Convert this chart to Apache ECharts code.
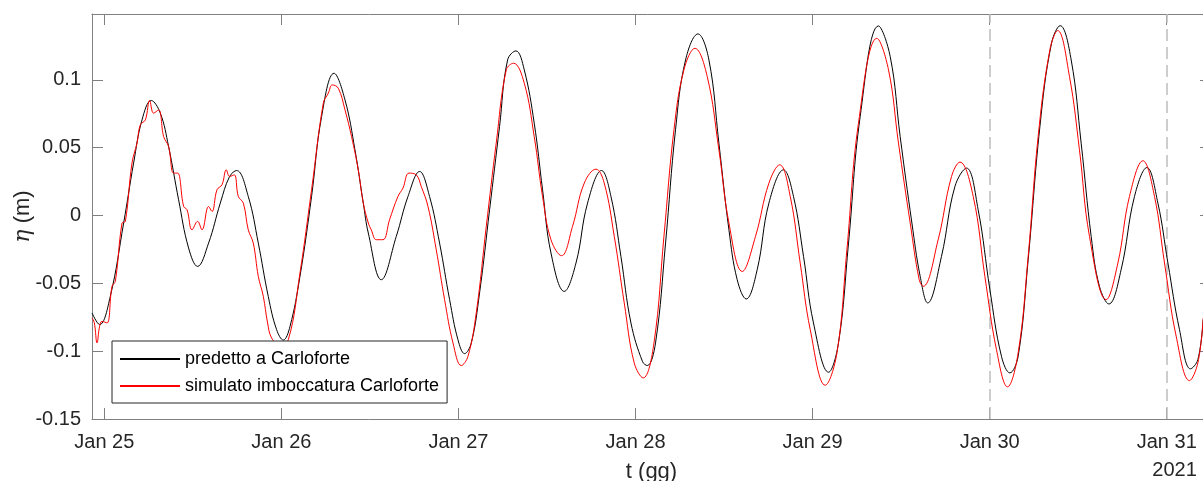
<!DOCTYPE html>
<html>
<head>
<meta charset="utf-8">
<script src="https://cdn.jsdelivr.net/npm/echarts@6/dist/echarts.min.js"></script>
<style>
  html, body { margin: 0; padding: 0; background: #fff; }
  #container { width: 1203px; height: 481px; }
</style>
</head>
<body>
<div id="container"></div>
<script>
// ore dalle 00:00 del 25 gennaio 2021
var predHours = [-1.67, -0.64, 0.81, 2.62, 3.97, 5.11, 6.37, 7.59, 8.71, 10.07, 11.42, 12.64, 14.13, 15.72, 16.98, 17.93,
  19.51, 20.87, 22.22, 23.35, 24.26, 25.17, 26.52, 28.09, 29.45, 31.13, 32.62, 33.97, 35.10, 35.78, 37.54, 39.57,
  41.16, 42.73, 44.08, 45.44, 46.80, 47.93, 48.83, 49.74, 50.86, 52.22, 53.57, 54.66, 55.79, 56.92, 58.27, 59.40,
  60.54, 62.34, 63.93, 65.50, 67.39, 68.67, 70.02, 71.38, 72.95, 73.59, 74.71, 76.07, 77.42, 78.78, 80.46, 81.95,
  83.30, 84.66, 85.78, 87.00, 88.49, 90.08, 92.06, 93.41, 94.77, 96.12, 98.16, 99.51, 100.87, 102.45, 104.93, 106.52,
  107.87, 109.46, 110.58, 111.60, 113.47, 115.29, 116.86, 118.44, 120.03, 121.60, 122.74, 123.86, 125.22, 126.81, 128.38, 129.56,
  131.05, 132.40, 133.76, 134.88, 136.16, 137.82, 139.63, 141.31, 142.80, 144.16, 145.73, 147.22, 148.22, 148.94];
var predEta = [-0.0718, -0.0804, -0.0596, -0.0055, 0.0387, 0.0705, 0.0848, 0.0755, 0.0509, 0.0116, -0.0239, -0.0375, -0.0203, 0.0092, 0.0288, 0.0332,
  0.0141, -0.0203, -0.0596, -0.0841, -0.0918, -0.0817, -0.0448, 0.0141, 0.0730, 0.1049, 0.0853, 0.0485, 0.0092, -0.0129, -0.0473, -0.0154,
  0.0141, 0.0325, 0.0141, -0.0203, -0.0620, -0.0915, -0.1018, -0.0939, -0.0571, 0.0043, 0.0656, 0.1147, 0.1214, 0.1074, 0.0681, 0.0190,
  -0.0276, -0.0559, -0.0350, 0.0092, 0.0332, 0.0141, -0.0301, -0.0792, -0.1077, -0.1106, -0.0939, -0.0203, 0.0632, 0.1147, 0.1339, 0.1147,
  0.0534, -0.0105, -0.0473, -0.0615, -0.0399, 0.0092, 0.0337, 0.0141, -0.0301, -0.0792, -0.1155, -0.0939, -0.0203, 0.0730, 0.1398, 0.1172,
  0.0582, -0.0055, -0.0448, -0.0644, -0.0301, 0.0214, 0.0350, 0.0043, -0.0546, -0.1038, -0.1160, -0.1038, -0.0325, 0.0656, 0.1270, 0.1400,
  0.1147, 0.0534, -0.0154, -0.0522, -0.0652, -0.0399, 0.0141, 0.0354, 0.0092, -0.0350, -0.0841, -0.1130, -0.1062, -0.0767];

var simHours = [-1.67, -1.36, -0.99, -0.64, -0.31, 0.37, 1.04, 1.49, 2.40, 2.85, 3.75, 4.43, 4.88, 5.56, 6.14, 6.68,
  7.36, 8.04, 8.71, 9.39, 9.93, 10.75, 11.21, 11.89, 12.64, 13.24, 14.13, 14.60, 15.27, 15.95, 16.53, 16.98,
  17.62, 18.16, 18.84, 19.51, 20.19, 20.87, 21.55, 22.13, 22.67, 23.72, 24.94, 26.52, 28.09, 29.68, 30.36, 30.90,
  31.71, 32.62, 33.51, 34.42, 35.10, 35.78, 36.18, 36.86, 37.77, 38.66, 39.80, 40.48, 41.29, 42.28, 42.96, 43.87,
  44.99, 46.12, 47.26, 48.38, 49.29, 50.41, 51.77, 53.12, 54.48, 55.47, 56.92, 58.27, 59.40, 60.54, 61.97, 63.46,
  65.05, 66.64, 67.76, 69.12, 70.47, 71.82, 73.04, 74.50, 75.85, 77.21, 78.56, 80.05, 81.72, 83.30, 84.66, 86.46,
  88.26, 90.08, 91.54, 92.97, 94.32, 95.68, 97.71, 99.30, 100.65, 102.22, 104.72, 106.29, 107.64, 109.23, 110.45, 110.99,
  113.02, 114.83, 115.97, 117.77, 119.35, 120.92, 122.42, 123.86, 125.22, 126.57, 128.16, 129.22, 130.82, 132.17, 133.53, 135.79,
  137.38, 138.95, 140.77, 142.34, 143.70, 145.28, 147.08, 148.22, 148.94];
var simEta = [-0.0755, -0.0789, -0.0939, -0.0817, -0.0780, -0.0792, -0.0522, -0.0485, -0.0055, -0.0043, 0.0387, 0.0534, 0.0669, 0.0705, 0.0848, 0.0755,
  0.0779, 0.0582, 0.0509, 0.0313, 0.0313, 0.0067, 0.0043, -0.0105, -0.0043, -0.0105, 0.0067, 0.0030, 0.0190, 0.0227, 0.0337, 0.0288,
  0.0300, 0.0141, 0.0092, -0.0105, -0.0203, -0.0448, -0.0596, -0.0792, -0.0902, -0.0951, -0.0915, -0.0423, 0.0190, 0.0828, 0.0902, 0.0963,
  0.0939, 0.0779, 0.0582, 0.0337, 0.0092, -0.0055, -0.0105, -0.0178, -0.0178, -0.0031, 0.0141, 0.0203, 0.0313, 0.0300, 0.0214, 0.0067,
  -0.0252, -0.0620, -0.0939, -0.1106, -0.1038, -0.0718, -0.0080, 0.0534, 0.1074, 0.1123, 0.0976, 0.0582, 0.0141, -0.0178, -0.0296, -0.0080,
  0.0239, 0.0342, 0.0239, -0.0154, -0.0644, -0.1086, -0.1197, -0.0939, -0.0154, 0.0632, 0.1074, 0.1233, 0.1024, 0.0485, -0.0055, -0.0412,
  -0.0154, 0.0239, 0.0374, 0.0141, -0.0350, -0.0841, -0.1251, -0.1013, -0.0252, 0.0681, 0.1307, 0.1074, 0.0534, -0.0055, -0.0473, -0.0522,
  -0.0178, 0.0288, 0.0394, 0.0141, -0.0448, -0.0988, -0.1263, -0.1013, -0.0301, 0.0582, 0.1221, 0.1364, 0.1024, 0.0485, -0.0154, -0.0620,
  -0.0350, 0.0141, 0.0404, 0.0141, -0.0350, -0.0890, -0.1217, -0.1086, -0.0755];

var xTicks = [0, 24, 48, 72, 96, 120, 144];
var xTickLabels = ['Jan 25', 'Jan 26', 'Jan 27', 'Jan 28', 'Jan 29', 'Jan 30', 'Jan 31'];
var yTicks = [-0.15, -0.1, -0.05, 0, 0.05, 0.1];
var dashedHours = [120, 144];
var seriesNames = ['predetto a Carloforte', 'simulato imboccatura Carloforte'];

function pairs(xs, ys) {
    var out = [];
    for (var i = 0; i < xs.length; i++) out.push([xs[i], ys[i]]);
    return out;
}

var FONT = "'Liberation Sans', Arial, Helvetica, sans-serif";
var AX = '#808080';
var TXT = '#262626';

var myChart = echarts.init(document.getElementById('container'));
myChart.setOption({
    animation: false,
    backgroundColor: '#fff',
    textStyle: { fontFamily: FONT },
    grid: { left: 92, top: 14, right: -8, bottom: 62, outerBoundsMode: 'none', containLabel: false },
    legend: {
        left: 112, top: 341,
        orient: 'vertical',
        padding: [9, 8, 8, 7],
        itemWidth: 60, itemHeight: 14, itemGap: 9,
        itemStyle: { opacity: 0 },
        backgroundColor: '#fff',
        borderColor: TXT, borderWidth: 1, borderRadius: 0,
        textStyle: { fontSize: 18, color: '#000', fontFamily: FONT },
        data: seriesNames
    },
    xAxis: [{
        type: 'value', min: -1.67, max: 150,
        name: 't (gg)', nameLocation: 'middle', nameGap: 42, nameMoveOverlap: false,
        nameTextStyle: { fontSize: 22, color: TXT, fontFamily: FONT },
        axisLine: { onZero: false, lineStyle: { color: AX, width: 1 } },
        axisTick: { inside: true, length: 11, lineStyle: { color: AX }, customValues: xTicks },
        axisLabel: {
            customValues: xTicks, margin: 9, fontSize: 20, color: TXT, lineHeight: 28,
            formatter: function (v) {
                var i = xTicks.indexOf(v);
                if (i === xTicks.length - 1) return '{a|' + xTickLabels[i] + '}\n{b|2021}';
                return '{a|' + xTickLabels[i] + '}';
            },
            rich: {
                a: { fontSize: 20, color: TXT, lineHeight: 28, fontFamily: FONT },
                b: { fontSize: 20, color: TXT, lineHeight: 28, align: 'right', fontFamily: FONT }
            }
        },
        splitLine: { show: false }
    }, {
        type: 'value', min: -1.67, max: 150, position: 'top',
        axisLine: { onZero: false, lineStyle: { color: AX, width: 1 } },
        axisTick: { inside: true, length: 11, lineStyle: { color: AX }, customValues: xTicks },
        axisLabel: { show: false },
        splitLine: { show: false }
    }],
    yAxis: [{
        type: 'value', min: -0.15, max: 0.1486,
        name: '{i|η} (m)', nameLocation: 'middle', nameGap: 58, nameRotate: 90, nameMoveOverlap: false,
        nameTextStyle: {
            fontSize: 22, color: TXT, fontFamily: FONT,
            rich: { i: { fontSize: 22, fontStyle: 'italic', fontFamily: "'DejaVu Serif', serif", color: TXT } }
        },
        axisLine: { show: true, onZero: false, lineStyle: { color: AX, width: 1 } },
        axisTick: { show: true, inside: true, length: 11, lineStyle: { color: AX }, customValues: yTicks },
        axisLabel: {
            customValues: yTicks, margin: 11, fontSize: 20, color: TXT,
            formatter: function (v) { return String(+v.toFixed(2)); }
        },
        splitLine: { show: false }
    }, {
        type: 'value', min: -0.15, max: 0.1486, position: 'right',
        axisLine: { show: true, onZero: false, lineStyle: { color: AX, width: 1 } },
        axisTick: { show: true, inside: true, length: 11, lineStyle: { color: AX }, customValues: yTicks },
        axisLabel: { show: false },
        splitLine: { show: false }
    }],
    series: [{
        name: seriesNames[0],
        type: 'line',
        data: pairs(predHours, predEta),
        symbol: 'none', smooth: 0.4,
        lineStyle: { color: '#000', width: 1 },
        itemStyle: { color: '#000' },
        z: 2,
        markLine: {
            silent: true, symbol: ['none', 'none'],
            label: { show: false },
            lineStyle: { color: '#bdbdbd', type: [12, 6], width: 1.5 },
            data: dashedHours.map(function (h) { return { xAxis: h }; }),
            z: 1
        }
    }, {
        name: seriesNames[1],
        type: 'line',
        data: pairs(simHours, simEta),
        symbol: 'none', smooth: 0.4,
        lineStyle: { color: '#ff0000', width: 1 },
        itemStyle: { color: '#ff0000' },
        z: 3
    }]
});
</script>
</body>
</html>
